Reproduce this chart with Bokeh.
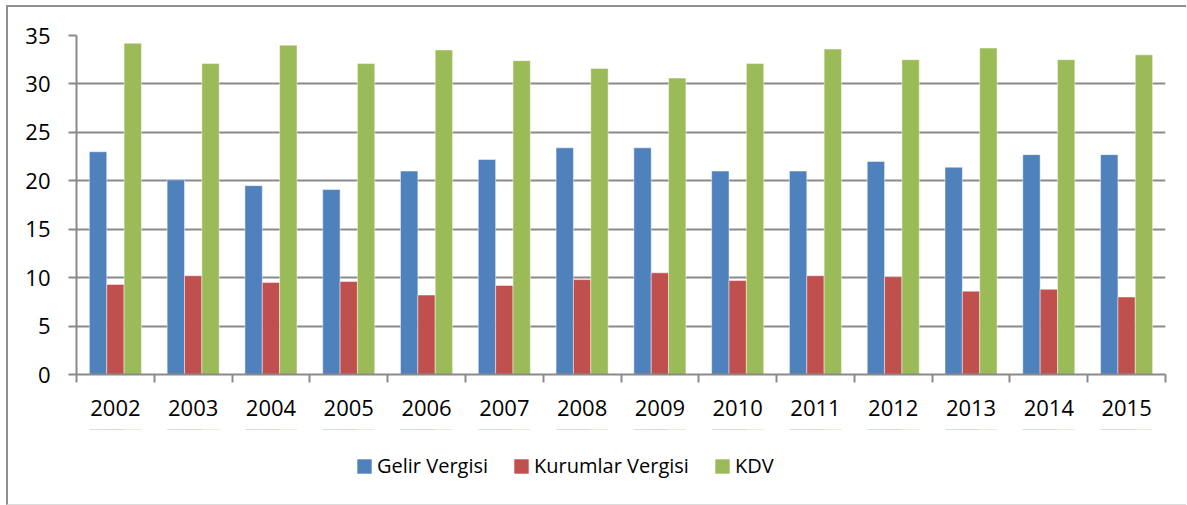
from bokeh.plotting import figure
from bokeh.layouts import column
from bokeh.models import ColumnDataSource, FixedTicker, Legend, LegendItem, Range1d
from bokeh.transform import dodge
from bokeh.embed import file_html
from bokeh.resources import INLINE

years = ["2002", "2003", "2004", "2005", "2006", "2007", "2008",
         "2009", "2010", "2011", "2012", "2013", "2014", "2015"]
gelir = [23.0, 20.1, 19.5, 19.1, 21.0, 22.2, 23.4, 23.4, 21.0, 21.0, 22.0, 21.4, 22.7, 22.7]
kurumlar = [9.3, 10.2, 9.5, 9.6, 8.2, 9.2, 9.8, 10.5, 9.7, 10.2, 10.1, 8.6, 8.8, 8.0]
kdv = [34.2, 32.1, 34.0, 32.1, 33.5, 32.4, 31.6, 30.6, 32.1, 33.6, 32.5, 33.7, 32.5, 33.0]
series_names = ["Gelir Vergisi", "Kurumlar Vergisi", "KDV"]
colors = ["#4F81BD", "#C0504D", "#9BBB59"]
y_ticks = [0, 5, 10, 15, 20, 25, 30, 35]

n = len(years)
centers = [i + 0.5 for i in range(n)]
bounds = [float(i) for i in range(n + 1)]

source = ColumnDataSource(dict(x=centers, gelir=gelir, kurumlar=kurumlar, kdv=kdv))

FONT = "Open Sans"
GRAY = "#8a8a8a"
W = 1178
fields = ["gelir", "kurumlar", "kdv"]
bw = 0.223
offsets = [-bw, 0.0, bw]

# ---------------- main chart ----------------
p = figure(width=W, height=422, x_range=Range1d(0, n), y_range=Range1d(0, 35),
           output_backend="svg", toolbar_location=None,
           min_border_left=68, min_border_right=21, min_border_top=28, min_border_bottom=55)
p.outline_line_color = None
p.background_fill_color = "white"
p.border_fill_color = "white"

for field, off, col in zip(fields, offsets, colors):
    p.vbar(x=dodge("x", off), top=field, width=bw, source=source,
           fill_color=col, line_color="white", line_alpha=0.45, line_width=1)

p.xgrid.visible = False
p.ygrid.ticker = FixedTicker(ticks=y_ticks)
p.ygrid.grid_line_color = GRAY
p.ygrid.grid_line_width = 2

p.yaxis.ticker = FixedTicker(ticks=y_ticks)
p.yaxis.axis_line_color = GRAY
p.yaxis.axis_line_width = 2
p.yaxis.major_tick_line_color = GRAY
p.yaxis.major_tick_line_width = 2
p.yaxis.major_tick_out = 8
p.yaxis.major_tick_in = 0
p.yaxis.minor_tick_line_color = None
p.yaxis.major_label_standoff = 18
p.yaxis.major_label_text_font = FONT
p.yaxis.major_label_text_font_size = "22px"
p.yaxis.major_label_text_color = "black"

p.xaxis.ticker = FixedTicker(ticks=centers, minor_ticks=bounds)
p.xaxis.major_label_overrides = {c: y for c, y in zip(centers, years)}
p.xaxis.axis_line_color = GRAY
p.xaxis.axis_line_width = 2
p.xaxis.major_tick_line_color = None
p.xaxis.major_tick_out = 0
p.xaxis.major_tick_in = 0
p.xaxis.minor_tick_line_color = GRAY
p.xaxis.minor_tick_line_width = 2
p.xaxis.minor_tick_out = 8
p.xaxis.minor_tick_in = 0
p.xaxis.major_label_standoff = 17
p.xaxis.major_label_text_font = FONT
p.xaxis.major_label_text_font_size = "22px"
p.xaxis.major_label_text_color = "black"

# ---------------- legend strip ----------------
# Zero-height copies of the series, placed outside this strip's y-range,
# so only their legend swatches are drawn.
p2 = figure(width=W, height=75, x_range=p.x_range, y_range=Range1d(-2, -1),
            output_backend="svg", toolbar_location=None,
            x_axis_location=None, y_axis_location=None,
            min_border_left=0, min_border_right=0, min_border_top=0, min_border_bottom=0)
p2.grid.visible = False
p2.outline_line_color = None
p2.background_fill_color = "white"
p2.border_fill_color = "white"

swatches = []
for field, off, col in zip(fields, offsets, colors):
    swatches.append(p2.vbar(x=dodge("x", off), top=field, bottom=field, width=bw, source=source,
                            fill_color=col, line_color=None))

legend = Legend(items=[LegendItem(label=nm, renderers=[r]) for nm, r in zip(series_names, swatches)],
                orientation="horizontal", location=(279, 25),
                padding=0, margin=0, spacing=24, label_standoff=4,
                glyph_width=18, glyph_height=18,
                border_line_color=None, background_fill_alpha=0,
                label_text_font=FONT, label_text_font_size="20px", label_text_color="black")
p2.add_layout(legend)

layout = column(p, p2, spacing=0)
layout.styles = {"margin-left": "6px", "margin-top": "5px",
                 "border-left": "2px solid #8f8f8f", "border-top": "2px solid #8f8f8f",
                 "border-bottom": "1px solid #dcdcdc"}

open("out.html", "w").write(file_html(layout, INLINE))
